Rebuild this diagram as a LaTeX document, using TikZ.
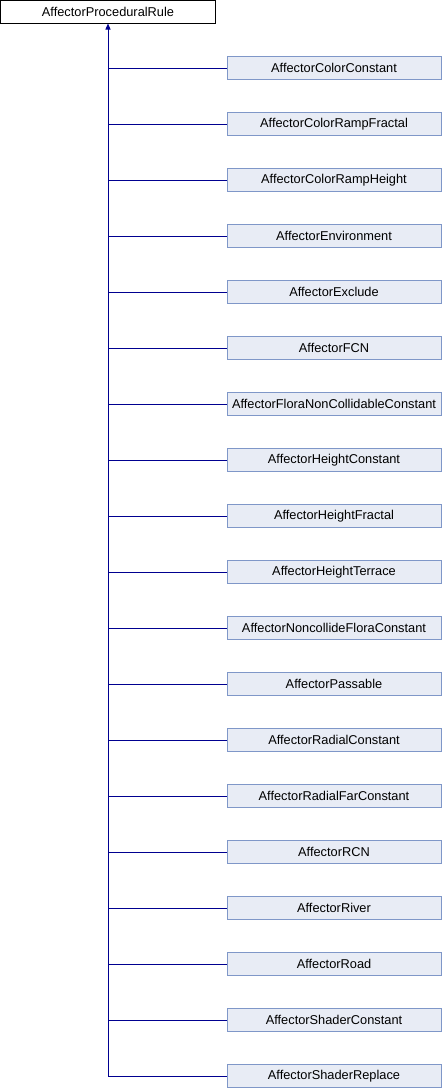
\documentclass[tikz,border=0pt]{standalone}
\usepackage{fontspec}
\setmainfont{Liberation Sans}
\usetikzlibrary{arrows.meta}
\definecolor{edgeblue}{HTML}{000090}
\definecolor{boxfill}{HTML}{E8ECF5}
\definecolor{boxline}{HTML}{7F97C8}
\tikzset{
  base/.style={draw=black, fill=white, line width=1pt, minimum width=215pt, minimum height=23pt, inner sep=0pt, font=\fontsize{12.8}{14}\selectfont},
  child/.style={draw=boxline, fill=boxfill, line width=1pt, minimum width=214pt, minimum height=23pt, inner sep=0pt, font=\fontsize{12.8}{14}\selectfont},
  edge/.style={draw=edgeblue, line width=1pt},
}
\begin{document}
\begin{tikzpicture}[x=1pt,y=-1pt]
\useasboundingbox (0,0) rectangle (442,1088);
\node[base] (root) at (108,11.5) {AffectorProceduralRule};
\coordinate (trunk) at (108,1076);
\foreach \name [count=\i from 0] in {AffectorColorConstant,AffectorColorRampFractal,AffectorColorRampHeight,AffectorEnvironment,AffectorExclude,AffectorFCN,AffectorFloraNonCollidableConstant,AffectorHeightConstant,AffectorHeightFractal,AffectorHeightTerrace,AffectorNoncollideFloraConstant,AffectorPassable,AffectorRadialConstant,AffectorRadialFarConstant,AffectorRCN,AffectorRiver,AffectorRoad,AffectorShaderConstant,AffectorShaderReplace}{
  \node[child] (c\i) at (334,68+56*\i) {\name};
  \coordinate (j\i) at (108,68+56*\i);
  \draw[edge] (j\i) -- (c\i.west);
}
\draw[edge, -{Triangle[length=6pt,width=5pt]}] (trunk) -- (root.south);
\end{tikzpicture}
\end{document}
